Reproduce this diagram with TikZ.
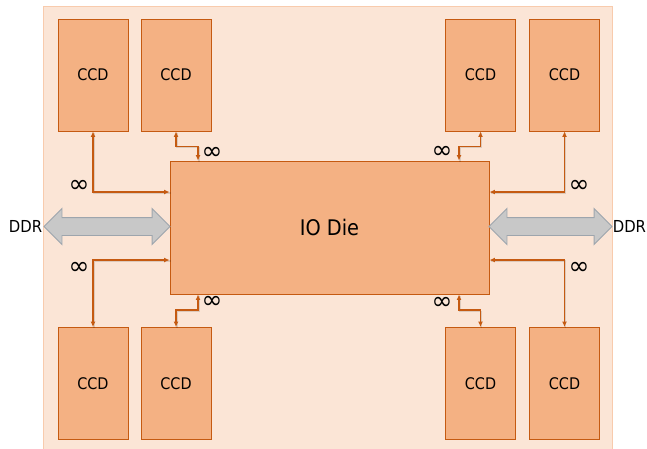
\documentclass[tikz,border=0pt]{standalone}
\usepackage{fontspec}
\setmainfont{DejaVu Sans Condensed}
\newfontfamily\symfont{DejaVu Sans}
\usetikzlibrary{arrows.meta,shapes.arrows}
\definecolor{bgfill}{HTML}{FBE5D6}
\definecolor{bgline}{HTML}{F8CBAD}
\definecolor{boxfill}{HTML}{F4B183}
\definecolor{boxline}{HTML}{C55A11}
\definecolor{arrfill}{HTML}{C8C8C8}
\definecolor{arrline}{HTML}{9DA5AD}
\tikzset{
  ccd/.style={draw=boxline, fill=boxfill, line width=0.9pt, minimum width=70pt, minimum height=112pt, inner sep=0pt, font=\fontsize{16}{16}\selectfont},
  iodie/.style={draw=boxline, fill=boxfill, line width=0.9pt, minimum width=319pt, minimum height=133pt, inner sep=0pt, font=\fontsize{21.5}{22}\selectfont},
  conn/.style={draw=boxline, line width=1.2pt, {Latex[length=5.5pt,width=5pt]}-{Latex[length=5.5pt,width=5pt]},
    preaction={draw=black, draw opacity=0.12, line width=1.5pt, -, transform canvas={shift={(1.2pt,-1.2pt)}}}},
  inf/.style={inner sep=0pt, font=\symfont\fontsize{25}{25}\selectfont},
  ddrarrow/.style={double arrow, draw=arrline, fill=arrfill, line width=0.9pt, inner xsep=0pt, inner ysep=8.5pt, double arrow head extend=9pt},
  ddr/.style={inner sep=0pt, font=\fontsize{16.5}{16.5}\selectfont}
}
\begin{document}
\begin{tikzpicture}[x=1pt,y=-1pt]
\useasboundingbox (0,0) rectangle (647,448);
\fill[bgfill] (43,6) rectangle (612.5,460);
\draw[bgline, line width=1pt] (43,460) -- (43,6) -- (612.5,6) -- (612.5,460);

\node[ccd] (tl1) at (93,75) {CCD};
\node[ccd] (tl2) at (176,75) {CCD};
\node[ccd] (tr1) at (480.5,75) {CCD};
\node[ccd] (tr2) at (564.5,75) {CCD};
\node[ccd] (bl1) at (93,383.5) {CCD};
\node[ccd] (bl2) at (176,383.5) {CCD};
\node[ccd] (br1) at (480.5,383.5) {CCD};
\node[ccd] (br2) at (564.5,383.5) {CCD};

\node[iodie] (io) at (329.5,227.5) {IO Die};

\node[ddrarrow, minimum height=126pt] (ddrl) at (107,226.5) {};
\node[ddrarrow, minimum height=123pt] (ddrr) at (550.5,226.5) {};
\node[ddr, anchor=east] (ddrlt) at ([xshift=-1pt]ddrl.west) {DDR};
\node[ddr, anchor=west] (ddrrt) at (ddrr.east) {DDR};

% connectors
\draw[conn] (tl1.south) |- ([yshift=35.5pt]io.west);
\draw[conn] (bl1.north) |- ([yshift=-32.5pt]io.west);
\draw[conn] (tr2.south) |- ([yshift=35.5pt]io.east);
\draw[conn] (br2.north) |- ([yshift=-32.5pt]io.east);
\draw[conn] (tl2.south) -- ++(0,15) -| ([xshift=-131.5pt]io.north);
\draw[conn] (tr1.south) -- ++(0,15) -| ([xshift=129.5pt]io.north);
\draw[conn] (bl2.north) -- ++(0,-17) -| ([xshift=-131.5pt]io.south);
\draw[conn] (br1.north) -- ++(0,-17) -| ([xshift=129.5pt]io.south);

\node[inf] (i1) at (79,186) {∞};
\node[inf] (i2) at (212,153) {∞};
\node[inf] (i3) at (79,268) {∞};
\node[inf] (i4) at (212,302.5) {∞};
\node[inf] (i5) at (442,152) {∞};
\node[inf] (i6) at (579,186) {∞};
\node[inf] (i7) at (579,268) {∞};
\node[inf] (i8) at (442,303.5) {∞};
\end{tikzpicture}
\end{document}
